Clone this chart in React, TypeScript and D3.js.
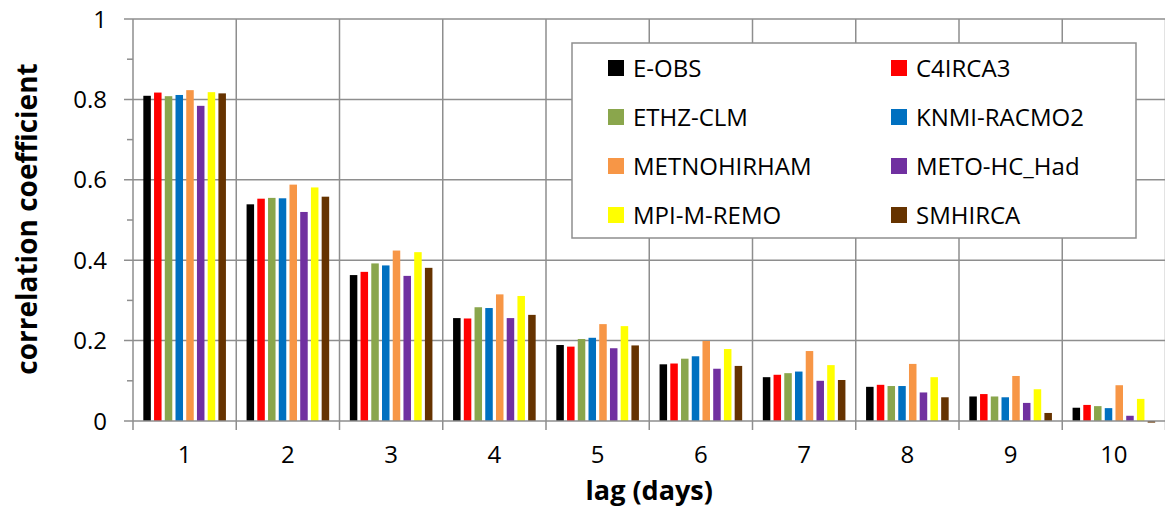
import React from "react";
import * as d3 from "d3";

const lags = ["1", "2", "3", "4", "5", "6", "7", "8", "9", "10"];
const seriesNames = ["E-OBS", "C4IRCA3", "ETHZ-CLM", "KNMI-RACMO2", "METNOHIRHAM", "METO-HC_Had", "MPI-M-REMO", "SMHIRCA"];
const seriesColors = ["#000000", "#ff0000", "#8aa64c", "#0070c0", "#f79646", "#7030a0", "#ffff00", "#663300"];

const eObs = [0.809, 0.539, 0.363, 0.256, 0.189, 0.141, 0.109, 0.085, 0.061, 0.033];
const c4irca3 = [0.817, 0.553, 0.371, 0.255, 0.185, 0.143, 0.115, 0.09, 0.067, 0.04];
const ethzClm = [0.808, 0.555, 0.392, 0.283, 0.204, 0.155, 0.119, 0.087, 0.061, 0.037];
const knmiRacmo2 = [0.811, 0.554, 0.387, 0.281, 0.207, 0.161, 0.123, 0.087, 0.059, 0.032];
const metnoHirham = [0.823, 0.588, 0.424, 0.315, 0.241, 0.199, 0.174, 0.142, 0.112, 0.089];
const metoHcHad = [0.784, 0.52, 0.361, 0.256, 0.181, 0.13, 0.1, 0.071, 0.045, 0.013];
const mpiMRemo = [0.818, 0.581, 0.42, 0.311, 0.236, 0.179, 0.139, 0.109, 0.079, 0.055];
const smhiRca = [0.815, 0.558, 0.381, 0.264, 0.188, 0.137, 0.102, 0.059, 0.02, -0.004];

const seriesValues = [eObs, c4irca3, ethzClm, knmiRacmo2, metnoHirham, metoHcHad, mpiMRemo, smhiRca];
const yTicks = [0, 0.2, 0.4, 0.6, 0.8, 1];
const yMinorTicks = [0.1, 0.3, 0.5, 0.7, 0.9];

const W = 1165;
const H = 510;
const plotLeft = 133;
const plotRight = 1165.5;
const plotTop = 19;
const plotBottom = 421;
const FONT = "'Open Sans', sans-serif";
const GRID = "#8e8e8e";

export default function App() {
  const x0 = d3.scaleBand<string>().domain(lags).range([plotLeft, plotRight]).paddingInner(0).paddingOuter(0);
  const bw = x0.bandwidth();
  const pad = bw * 0.1;
  const x1 = d3.scaleBand<string>().domain(seriesNames).range([pad, bw - pad]).paddingInner(0.3).paddingOuter(0);
  const y = d3.scaleLinear().domain([0, 1]).range([plotBottom, plotTop]);

  const boundaries = lags.map((l) => x0(l) as number).concat([plotRight]);

  const legendX = 572;
  const legendY = 43;
  const legendW = 564;
  const legendH = 195;
  const colX = [608, 891];
  const rowY = [68, 117, 166, 215];

  return (
    <svg width={W} height={H} style={{ position: "absolute", left: 0, top: 0, background: "#fff" }} fontFamily={FONT}>
      <rect x={0} y={0} width={W} height={H} fill="#fff" />
      {yTicks.filter((t) => t > 0).map((t) => (
        <line key={"hg" + t} x1={plotLeft - 9} x2={plotRight} y1={y(t)} y2={y(t)} stroke={GRID} strokeWidth={1.5} />
      ))}
      {boundaries.slice(1).map((b, i) => (
        <line key={"vg" + i} x1={b} x2={b} y1={plotTop} y2={plotBottom + 9} stroke={GRID} strokeWidth={1.5} />
      ))}
      {yMinorTicks.map((t) => (
        <line key={"mt" + t} x1={plotLeft - 6} x2={plotLeft} y1={y(t)} y2={y(t)} stroke={GRID} strokeWidth={1.5} />
      ))}
      {lags.map((lag, li) => (
        <g key={"g" + lag} transform={`translate(${x0(lag)},0)`}>
          {seriesNames.map((s, si) => {
            const v = seriesValues[si][li];
            return (
              <rect
                key={s}
                x={x1(s)}
                y={y(Math.max(0, v))}
                width={x1.bandwidth()}
                height={Math.abs(y(v) - y(0))}
                fill={seriesColors[si]}
              />
            );
          })}
        </g>
      ))}
      <line x1={plotLeft} x2={plotLeft} y1={plotTop} y2={plotBottom} stroke={GRID} strokeWidth={1.5} />
      <line x1={plotLeft - 9} x2={plotRight} y1={plotBottom} y2={plotBottom} stroke={GRID} strokeWidth={1.5} />
      <line x1={plotLeft} x2={plotLeft} y1={plotBottom} y2={plotBottom + 9} stroke={GRID} strokeWidth={1.5} />
      {yTicks.map((t) => (
        <text key={"yl" + t} x={107} y={y(t)} dy="0.36em" textAnchor="end" fontSize={24} fill="#000">
          {d3.format("")(t)}
        </text>
      ))}
      {lags.map((l) => (
        <text key={"xl" + l} x={(x0(l) as number) + bw / 2} y={463} textAnchor="middle" fontSize={24} fill="#000">
          {l}
        </text>
      ))}
      <text x={(plotLeft + plotRight) / 2} y={500} textAnchor="middle" fontSize={27} fontWeight="bold" fill="#000">
        lag (days)
      </text>
      <text
        transform={`translate(37,219) rotate(-90)`}
        textAnchor="middle"
        fontSize={28}
        fontWeight="bold"
        fill="#000"
      >
        correlation coefficient
      </text>
      <rect x={legendX} y={legendY} width={legendW} height={legendH} fill="#fff" stroke={GRID} strokeWidth={1.5} />
      {seriesNames.map((s, i) => {
        const cx = colX[i % 2];
        const cy = rowY[Math.floor(i / 2)];
        return (
          <g key={"lg" + s}>
            <rect x={cx} y={cy - 8} width={16} height={16} fill={seriesColors[i]} />
            <text x={cx + 25} y={cy} dy="0.36em" fontSize={24} fill="#000">
              {s}
            </text>
          </g>
        );
      })}
    </svg>
  );
}
